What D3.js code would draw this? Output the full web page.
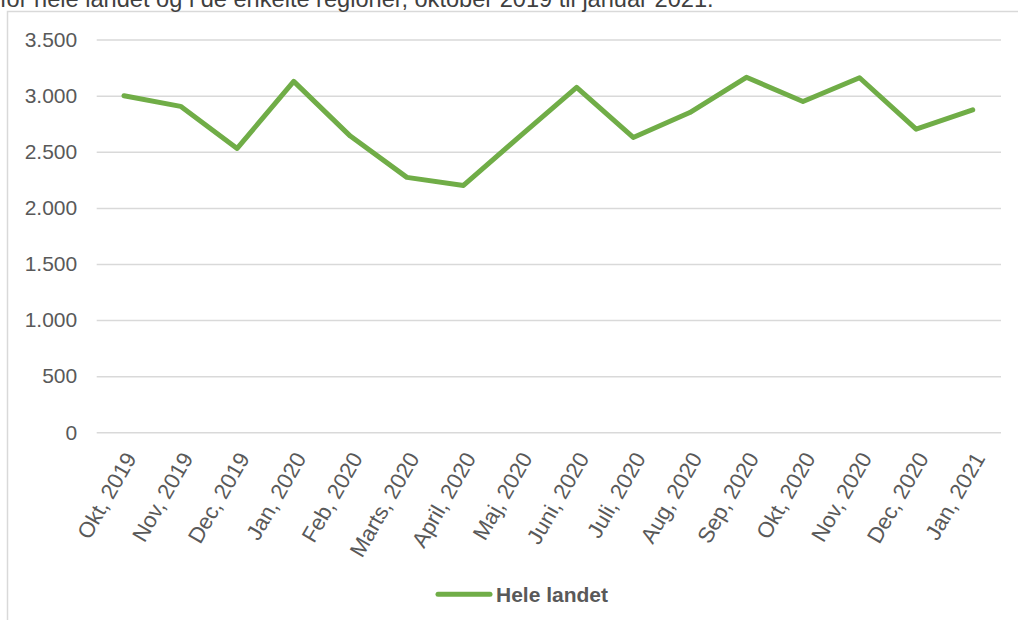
<!DOCTYPE html>
<html>
<head>
<meta charset="utf-8">
<script src="https://cdn.jsdelivr.net/npm/d3@7"></script>
<style>
  body { margin: 0; background: #fff; }
  svg { display: block; font-family: "Liberation Sans", Arial, sans-serif; }
</style>
</head>
<body>
<svg id="chart" width="1018" height="620"></svg>
<script>
// data
var months = ['Okt, 2019', 'Nov, 2019', 'Dec, 2019', 'Jan, 2020', 'Feb, 2020', 'Marts, 2020',
  'April, 2020', 'Maj, 2020', 'Juni, 2020', 'Juli, 2020', 'Aug, 2020', 'Sep, 2020',
  'Okt, 2020', 'Nov, 2020', 'Dec, 2020', 'Jan, 2021'];
var heleLandet = [3000, 2905, 2530, 3128, 2640, 2272, 2200, 2640, 3074, 2628, 2850, 3164,
  2948, 3160, 2702, 2874];
var yTicks = [0, 500, 1000, 1500, 2000, 2500, 3000, 3500];
var seriesName = 'Hele landet';
var titleText = 'for hele landet og i de enkelte regioner, oktober 2019 til januar 2021.';

var svg = d3.select('#chart');
var textColor = '#595959';
var gridColor = '#d9d9d9';
var lineColor = '#70ad47';
var fontFam = '"Liberation Sans", Arial, sans-serif';

// chart frame
svg.append('rect')
  .attr('x', 7.5).attr('y', 11.5)
  .attr('width', 1030).attr('height', 700)
  .attr('fill', '#fff')
  .attr('stroke', gridColor)
  .attr('stroke-width', 1.5);

// title line (cut off at top in the original too)
svg.append('text')
  .attr('x', 0).attr('y', 7)
  .attr('font-size', 23.6)
  .attr('fill', '#404040')
  .text(titleText);

var x = d3.scalePoint().domain(months).range([95.7, 1001]).padding(0.5);
var y = d3.scaleLinear().domain([0, 3500]).range([432.3, 39.6]);

// gridlines + y labels
var yAxis = d3.axisLeft(y).tickValues(yTicks)
  .tickSize(-(1001 - 96.7))
  .tickPadding(19.5)
  .tickFormat(function(d) { return d3.format(',')(d).replace(/,/g, '.'); });

var gy = svg.append('g')
  .attr('transform', 'translate(96.7,0)')
  .call(yAxis);
gy.select('.domain').remove();
gy.selectAll('.tick line').attr('stroke', gridColor).attr('stroke-width', 1.5);
gy.selectAll('.tick text')
  .attr('fill', textColor)
  .attr('font-size', 21)
  .attr('font-family', fontFam);

// x labels
var xAxis = d3.axisBottom(x).tickSize(0).tickPadding(0);
var gx = svg.append('g').attr('transform', 'translate(0,432.3)').call(xAxis);
gx.select('.domain').remove();
gx.selectAll('.tick text')
  .attr('fill', textColor)
  .attr('font-size', 22)
  .attr('font-family', fontFam)
  .attr('text-anchor', 'end')
  .attr('y', 0).attr('dy', '0.35em')
  .attr('transform', 'translate(6,22) rotate(-60)');

// the line
var line = d3.line()
  .x(function(d, i) { return x(months[i]); })
  .y(function(d) { return y(d); });

svg.append('path')
  .datum(heleLandet)
  .attr('d', line)
  .attr('fill', 'none')
  .attr('stroke', lineColor)
  .attr('stroke-width', 5)
  .attr('stroke-linejoin', 'round')
  .attr('stroke-linecap', 'round');

// legend
var legend = svg.append('g').attr('transform', 'translate(0,594.3)');
legend.append('line')
  .attr('x1', 438).attr('x2', 490)
  .attr('y1', 0).attr('y2', 0)
  .attr('stroke', lineColor)
  .attr('stroke-width', 5)
  .attr('stroke-linecap', 'round');
legend.append('text')
  .attr('x', 496).attr('y', 0).attr('dy', '0.35em')
  .attr('font-size', 21)
  .attr('font-weight', 'bold')
  .attr('font-family', fontFam)
  .attr('fill', textColor)
  .text(seriesName);
</script>
</body>
</html>
